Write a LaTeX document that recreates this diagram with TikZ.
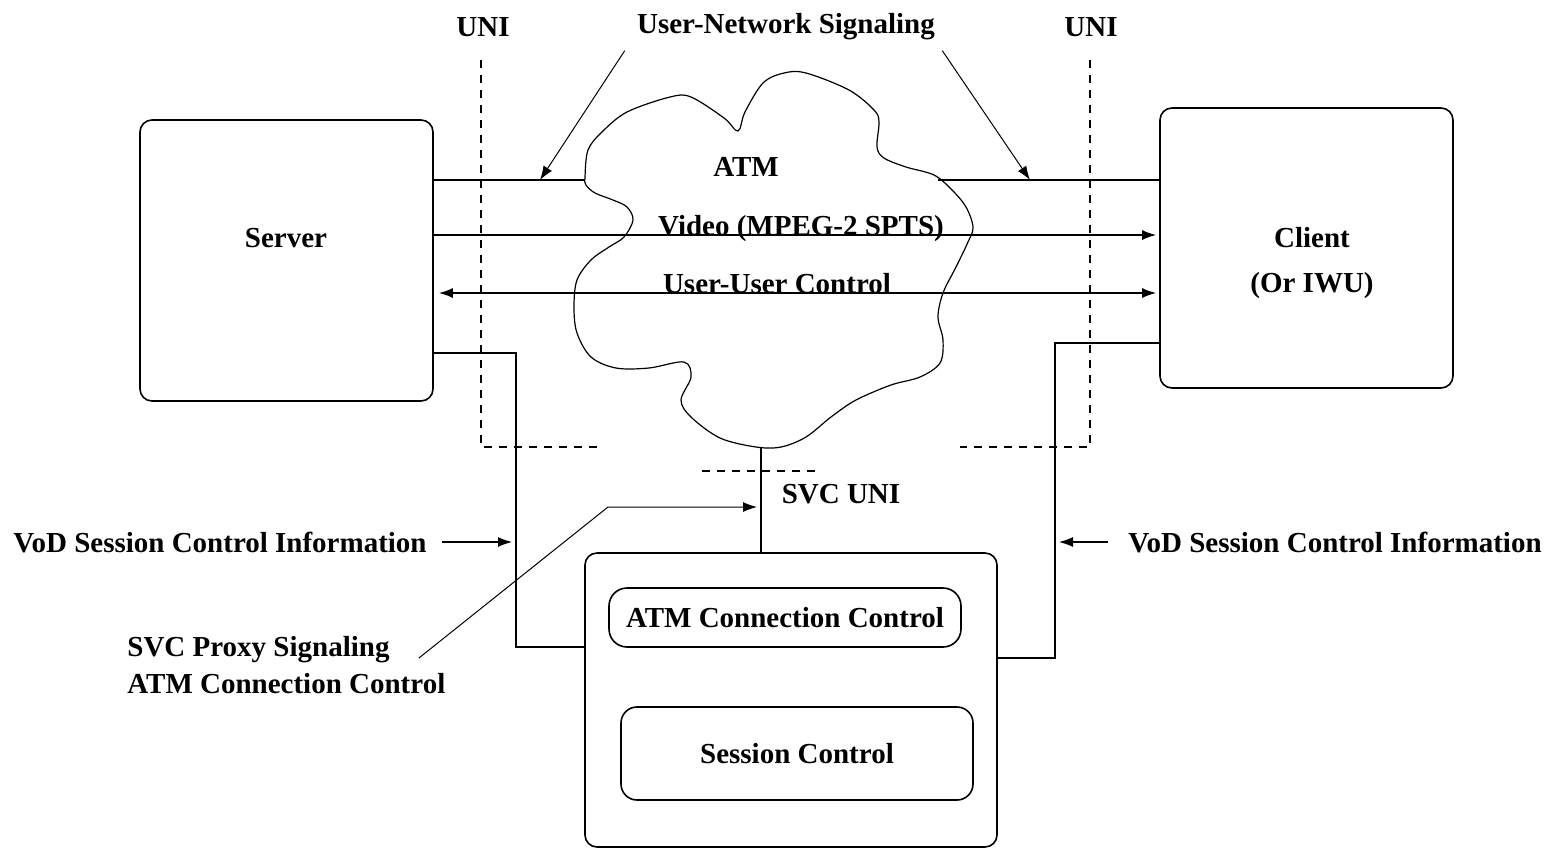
\documentclass[tikz,border=0pt]{standalone}
\usepackage{fontspec}
\setmainfont{Liberation Serif}
\usetikzlibrary{arrows.meta,calc}

\tikzset{
  box/.style={draw, line width=0.8pt, rounded corners=6pt, inner sep=0pt},
  lbl/.style={font=\bfseries\fontsize{14.5}{17}\selectfont, inner sep=0pt},
  wire/.style={line width=0.8pt},
  uni/.style={line width=0.8pt, dash pattern=on 4pt off 3.5pt},
  tip/.style={-{Latex[length=7pt,width=5pt]}},
  tips/.style={{Latex[length=7pt,width=5pt]}-{Latex[length=7pt,width=5pt]}},
  pointer/.style={line width=0.5pt, -{Latex[length=7pt,width=5pt]}},
}

\begin{document}
\begin{tikzpicture}[x=0.5pt,y=-0.5pt]
  \useasboundingbox (0,0) rectangle (1559,848);

  %%%%% boxes %%%%%
  \node[box, minimum width=146.5pt, minimum height=140.5pt] (server) at (286.5,260.5) {};
  \node[box, minimum width=146.5pt, minimum height=140pt] (client) at (1306.5,248) {};
  \node[box, minimum width=206pt, minimum height=147pt] (sess) at (791,700) {};
  \node[box, rounded corners=9pt, minimum width=176pt, minimum height=29.5pt] (atmcc) at (785,617.5) {};
  \node[box, rounded corners=8pt, minimum width=176pt, minimum height=46.5pt] (sessctl) at (797,753.5) {};

  %%%%% texts %%%%%
  \node[lbl] (server label) at (286,238) {Server};
  \node[lbl] (client label) at (1312,238) {Client};
  \node[lbl] (iwu label) at (1312,286) {(Or IWU)};
  \node[lbl] (atmcc label) at (atmcc) {ATM Connection Control};
  \node[lbl] (sessctl label) at (sessctl) {Session Control};
  \node[lbl] (uniL) at (483,27) {UNI};
  \node[lbl] (uniR) at (1091,27) {UNI};
  \node[lbl] (usig) at (786,27) {User-Network Signaling};
  \node[lbl] (atm) at (746,167) {ATM};
  \node[lbl, anchor=base] (video) at (801,235) {Video (MPEG-2 SPTS)};
  \node[lbl, anchor=base] (uuc) at (777,293) {User-User Control};
  \node[lbl] (svcuni) at (841,494) {SVC UNI};
  \node[lbl] (vodL) at (220,542) {VoD Session Control Information};
  \node[lbl] (vodR) at (1335,542) {VoD Session Control Information};
  \node[lbl, anchor=west] (proxy1) at (127,650) {SVC Proxy Signaling};
  \node[lbl, anchor=west] (proxy2) at (127,684) {ATM Connection Control};

  %%%%% cloud %%%%%
  \draw[line width=0.6pt] plot[smooth cycle, tension=0.55] coordinates {
    (585,177) (588,150) (602,132) (627,112) (670,97) (691,97) (724,118) (738,131)
    (745,112) (763,83) (784,73) (806,73) (849,90) (874,110) (879,122) (877,147)
    (884,158) (906,167) (934,175) (952,190) (966,207) (973,227) (968,242) (956,267)
    (943,293) (938,317) (943,340) (940,363) (920,377) (891,385) (856,400) (831,417)
    (806,437) (781,447) (756,447) (720,438) (691,417) (681,400) (691,377) (684,362)
    (649,368) (616,368) (591,357) (577,333) (574,307) (577,280) (591,260) (609,247)
    (624,237) (633,220) (627,207) (613,200) (595,193) (586,185)};
  \coordinate (cloudW) at (585,180);
  \coordinate (cloudE) at (938,180);
  \coordinate (cloudS) at (761,447);

  %%%%% UNI boundaries %%%%%
  \draw[uni] (481,60) -- (481,447) -- (600,447);
  \draw[uni] (1090,60) -- (1090,447) -- (960,447);
  \draw[uni] (702,471) -- (820,471);

  %%%%% connections %%%%%
  \draw[wire] (server.east |- cloudW) -- (cloudW);
  \draw[wire] (cloudE) -- (client.west |- cloudE);
  \draw[wire, tip, shorten >=1.5pt] (server.east |- video.base) -- (client.west |- video.base);
  \draw[wire, tips, shorten <=2.5pt, shorten >=1.5pt] (server.east |- uuc.base) -- (client.west |- uuc.base);
  \draw[wire] (server.east |- 0,353) -| (516,647) -- (sess.west |- 0,647);
  \draw[wire] (client.west |- 0,343) -| (1055,658) -- (sess.east |- 0,658);
  \draw[wire] (cloudS) -- (sess.north -| cloudS);

  %%%%% pointers %%%%%
  \coordinate (sigL) at (540,180);
  \coordinate (sigR) at (1030,180);
  \draw[pointer] ($(usig.south west)+(-12,10)$) -- (sigL);
  \draw[pointer] ($(usig.south east)+(7,10)$) -- (sigR);
  \coordinate (proxy bend) at (608,507);
  \draw[pointer, shorten >=2pt] ($(proxy1.east)+(29,8)$) -- (proxy bend) -- (cloudS |- proxy bend);
  \draw[line width=0.6pt, tip, shorten >=2pt] ($(vodL.east)+(15,0)$) -- (516,542);
  \draw[line width=0.6pt, tip, shorten >=2pt] ($(vodR.west)+(-20,0)$) -- (1055,542);
\end{tikzpicture}
\end{document}
